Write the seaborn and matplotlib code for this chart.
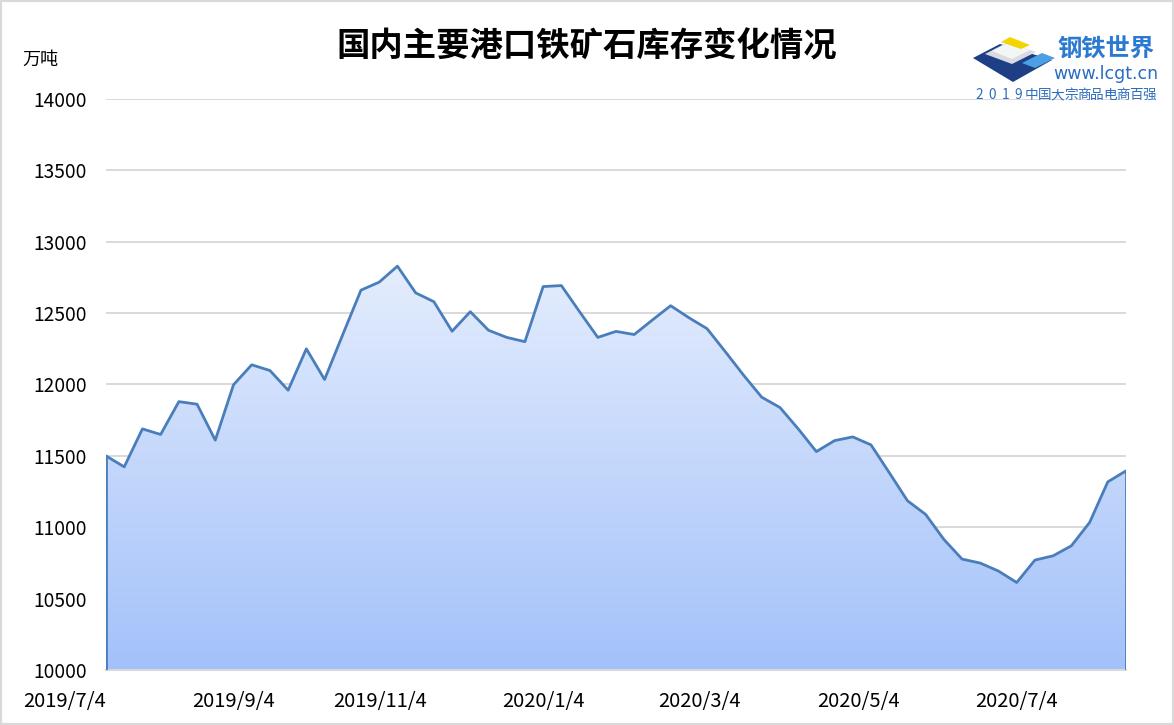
import numpy as np
import pandas as pd
import matplotlib
matplotlib.use("Agg")
import matplotlib.pyplot as plt
import seaborn as sns
from matplotlib.patches import Polygon, Rectangle
from matplotlib.colors import LinearSegmentedColormap

# ---------------- data ----------------
week_index = list(range(57))
inventory = [11500, 11423, 11689, 11650, 11880, 11862, 11610, 11998, 12138, 12098,
             11960, 12250, 12035, 12350, 12661, 12717, 12829, 12642, 12580, 12373,
             12510, 12380, 12330, 12300, 12686, 12693, 12510, 12330, 12372, 12350,
             12452, 12552, 12468, 12391, 12230, 12066, 11911, 11839, 11690, 11530,
             11607, 11633, 11577, 11383, 11186, 11090, 10915, 10777, 10749, 10693,
             10613, 10770, 10800, 10870, 11033, 11318, 11395]
date_labels = ["2019/7/4", "2019/9/4", "2019/11/4", "2020/1/4", "2020/3/4", "2020/5/4", "2020/7/4"]
date_label_pos = [0, 7, 15.05, 24, 32.6, 41.3, 50]
y_ticks = [10000, 10500, 11000, 11500, 12000, 12500, 13000, 13500, 14000]
title = "国内主要港口铁矿石库存变化情况"
unit = "万吨"

# ---------------- style ----------------
sns.set_theme(style="white")
plt.rcParams['font.family'] = ['Noto Sans CJK SC', 'DejaVu Sans']

W, H = 1174, 725
fig = plt.figure(figsize=(W / 100, H / 100), dpi=100)
fig.patch.set_facecolor("white")
ax = fig.add_axes([106 / W, 1 - 670 / H, 1020 / W, 571 / H])

df = pd.DataFrame({"week": week_index, "inventory": inventory})
line_color = "#4a7ebb"

# gradient area fill
verts = [(df.week.iloc[0], y_ticks[0])] + list(zip(df.week, df.inventory)) + [(df.week.iloc[-1], y_ticks[0])]
clip = Polygon(verts, closed=True, facecolor="none", edgecolor="none")
ax.add_patch(clip)
cmap = LinearSegmentedColormap.from_list("g", ["#a3c1fa", "#e4edfd"])
grad = np.linspace(0, 1, 256).reshape(-1, 1)
im = ax.imshow(grad, aspect="auto", cmap=cmap, origin="lower",
               extent=[df.week.min(), df.week.max(), y_ticks[0], max(inventory)], zorder=1)
im.set_clip_path(clip)

sns.lineplot(data=df, x="week", y="inventory", color=line_color, lw=2, ax=ax, zorder=3)
ax.vlines([df.week.iloc[0], df.week.iloc[-1]], y_ticks[0],
          [df.inventory.iloc[0], df.inventory.iloc[-1]], color=line_color, lw=2, zorder=3)

ax.set_xlim(df.week.min(), df.week.max())
ax.set_ylim(y_ticks[0], y_ticks[-1])
ax.set_yticks(y_ticks)
ax.set_yticklabels([str(v) for v in y_ticks])
ax.set_xticks(date_label_pos)
ax.set_xticklabels(date_labels)
ax.xaxis.get_ticklabels()[0].set_horizontalalignment("right")
ax.set_xlabel("")
ax.set_ylabel("")
ax.grid(axis="y", color="#d9d9d9", lw=1.4, zorder=0)
ax.set_axisbelow(True)
for s in ["top", "right", "left"]:
    ax.spines[s].set_visible(False)
ax.spines["bottom"].set_color("#d9d9d9")
ax.spines["bottom"].set_linewidth(1.5)
ax.tick_params(axis="y", length=0, pad=14, labelsize=13.8, labelcolor="black")
ax.tick_params(axis="x", length=0, pad=15, labelsize=14.5, labelcolor="black")
ax.set_facecolor("white")

# titles
fig.text(587 / W, 1 - 47 / H, title, ha="center", va="center", fontsize=24, fontweight="bold", color="black")
fig.text(22 / W, 1 - 60 / H, unit, ha="left", va="center", fontsize=13, color="black")

# logo (approximate)
def px(pts):
    return [(x / W, 1 - y / H) for x, y in pts]

for pts, col in [
    ([(973, 58), (1000, 44), (1052, 60), (1013, 82)], "#1e3f86"),
    ([(985, 54), (1008, 42), (1036, 52), (1012, 64)], "#d9dbe0"),
    ([(992, 51), (1010, 42), (1030, 50), (1012, 59)], "#f4f5f7"),
    ([(1001, 42), (1010, 37), (1030, 45), (1021, 49)], "#f3d500"),
    ([(1022, 63), (1042, 53), (1055, 58), (1035, 68)], "#4c9fe3"),
]:
    fig.patches.append(Polygon(px(pts), closed=True, transform=fig.transFigure,
                               facecolor=col, edgecolor="none"))
fig.text(1106 / W, 1 - 50 / H, "钢铁世界", ha="center", va="center", fontsize=17.5,
         fontweight="bold", color="#2b7ad2")
fig.text(1106 / W, 1 - 74 / H, "www.lcgt.cn", ha="center", va="center", fontsize=12.5,
         color="#2a6cc2", family=["DejaVu Sans"])
slogan = "2019中国大宗商品电商百强"
for k, ch in enumerate(slogan):
    fig.text((979 + 13.1 * k) / W, 1 - 95 / H, ch, ha="center", va="center",
             fontsize=9.8, color="#2d6cbf")

# border
fig.patches.append(Rectangle((0, 0), 1, 1, transform=fig.transFigure, fill=False,
                             edgecolor="#d9d9d9", lw=3))

fig.savefig("out.png", dpi=100)
